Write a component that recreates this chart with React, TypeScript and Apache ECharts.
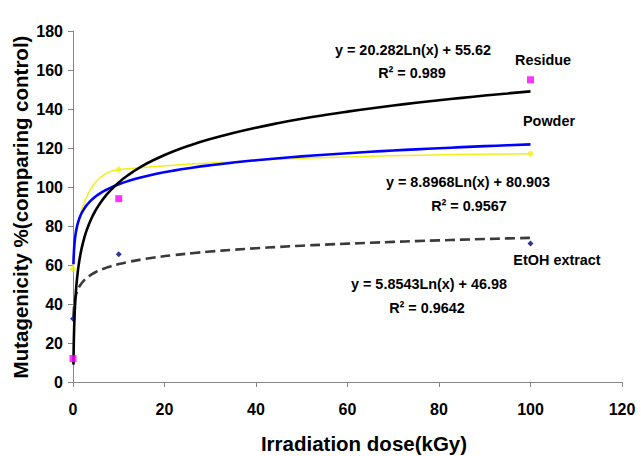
import React, { useEffect, useRef } from "react";
import * as echarts from "echarts";

// Irradiation dose (kGy); the 0 kGy control is fitted at x = 0.1 by the log trendlines
const doses = [0, 10, 100];
const residue = [12, 94, 155];
const powder = [58, 109, 117];
const etoh = [32.5, 65.5, 71];

// Logarithmic trendlines as printed on the chart: y = a·Ln(x) + b
const residueFit = { a: 20.282, b: 55.62 };
const powderFit = { a: 8.8968, b: 80.903 };
const etohFit = { a: 5.8543, b: 46.98 };

// x positions where the trendlines are evaluated
const trendX = [0.1, 0.13, 0.17, 0.22, 0.3, 0.4, 0.5, 0.65, 0.8, 1, 1.3, 1.6, 2, 2.5, 3, 4, 5, 6, 7, 8, 10, 12, 15, 18, 22, 26, 30, 35, 40, 45, 50, 55, 60, 65, 70, 75, 80, 85, 90, 95, 100];

const xTicks = { min: 0, max: 120, interval: 20 };
const yTicks = { min: 0, max: 180, interval: 20 };

const FONT = "'Liberation Sans', Arial, Helvetica, sans-serif";
const NARROW = "'Liberation Sans Narrow', 'Arial Narrow', 'Liberation Sans', sans-serif";

function trend(fit: { a: number; b: number }) {
  return trendX.map((x) => [x, fit.a * Math.log(x) + fit.b]);
}

export default function App() {
  const ref = useRef<HTMLDivElement>(null);

  useEffect(() => {
    document.body.style.margin = "0";
    const chart = echarts.init(ref.current!, undefined, { renderer: "svg" });
    const axisCommon = {
      type: "value" as const,
      axisLine: { show: true, lineStyle: { color: "#868686", width: 1 } },
      axisTick: { show: true, inside: false, length: 5, lineStyle: { color: "#868686" } },
      splitLine: { show: false },
    };
    const label = (text: string, x: number, y: number) => ({
      type: "text",
      x,
      y,
      scaleX: 0.93,
      style: {
        text,
        fontFamily: FONT,
        fontWeight: "bold",
        fontSize: 15.5,
        fill: "#000",
        align: "center",
        verticalAlign: "middle",
      },
    });
    const title = (text: string, x: number, y: number, rotation = 0) => ({
      type: "text",
      x,
      y,
      rotation,
      style: {
        text,
        fontFamily: FONT,
        fontWeight: "bold",
        fontSize: 20.5,
        fill: "#000",
        align: "center",
        verticalAlign: "middle",
      },
    });
    chart.setOption({
      animation: false,
      backgroundColor: "#fff",
      grid: { left: 73, right: 19, top: 31, bottom: 74 },
      xAxis: {
        ...axisCommon,
        ...xTicks,
        axisLabel: { margin: 19, color: "#000", fontFamily: NARROW, fontWeight: "bold", fontSize: 16 },
      },
      yAxis: {
        ...axisCommon,
        ...yTicks,
        axisLabel: { margin: 10, color: "#000", fontFamily: NARROW, fontWeight: "bold", fontSize: 16 },
      },
      series: [
        {
          name: "Powder line",
          type: "line",
          data: doses.map((d, i) => [d, powder[i]]),
          smooth: 0.6,
          showSymbol: false,
          lineStyle: { color: "#F2EE1C", width: 1.5 },
          z: 2,
        },
        {
          name: "Powder trend",
          type: "line",
          data: trend(powderFit),
          smooth: true,
          showSymbol: false,
          lineStyle: { color: "#0000FF", width: 2.6 },
          z: 3,
        },
        {
          name: "EtOH trend",
          type: "line",
          data: trend(etohFit),
          smooth: true,
          showSymbol: false,
          lineStyle: { color: "#3a3a3a", width: 2.6, type: [10, 5] },
          z: 3,
        },
        {
          name: "Residue trend",
          type: "line",
          data: trend(residueFit),
          smooth: true,
          showSymbol: false,
          lineStyle: { color: "#000000", width: 2.6 },
          z: 4,
        },
        {
          name: "Residue",
          type: "scatter",
          data: doses.map((d, i) => [d, residue[i]]),
          symbol: "rect",
          symbolSize: 7,
          itemStyle: { color: "#FF00FF" },
          z: 6,
        },
        {
          name: "Powder",
          type: "scatter",
          data: doses.map((d, i) => [d, powder[i]]),
          symbol: "diamond",
          symbolSize: 7,
          itemStyle: { color: "#F2EE1C" },
          z: 6,
        },
        {
          name: "EtOH extract",
          type: "scatter",
          data: doses.map((d, i) => [d, etoh[i]]),
          symbol: "diamond",
          symbolSize: 6,
          itemStyle: { color: "#000080" },
          z: 6,
        },
      ],
      graphic: [
        label("y = 20.282Ln(x) + 55.62", 413, 49),
        label("R² = 0.989", 412, 72),
        label("Residue", 543, 59),
        label("Powder", 549, 120),
        label("y = 8.8968Ln(x) + 80.903", 468, 181),
        label("R² = 0.9567", 469, 205),
        label("EtOH extract", 557, 259),
        label("y = 5.8543Ln(x) + 46.98", 429, 283),
        label("R² = 0.9642", 427, 307),
        title("Irradiation dose(kGy)", 364, 443),
        title("Mutagenicity %(comparing control)", 20, 207, Math.PI / 2),
      ],
    });
    return () => chart.dispose();
  }, []);

  return (
    <div
      ref={ref}
      style={{ position: "fixed", left: 0, top: 0, width: 641, height: 456, background: "#fff" }}
    />
  );
}
